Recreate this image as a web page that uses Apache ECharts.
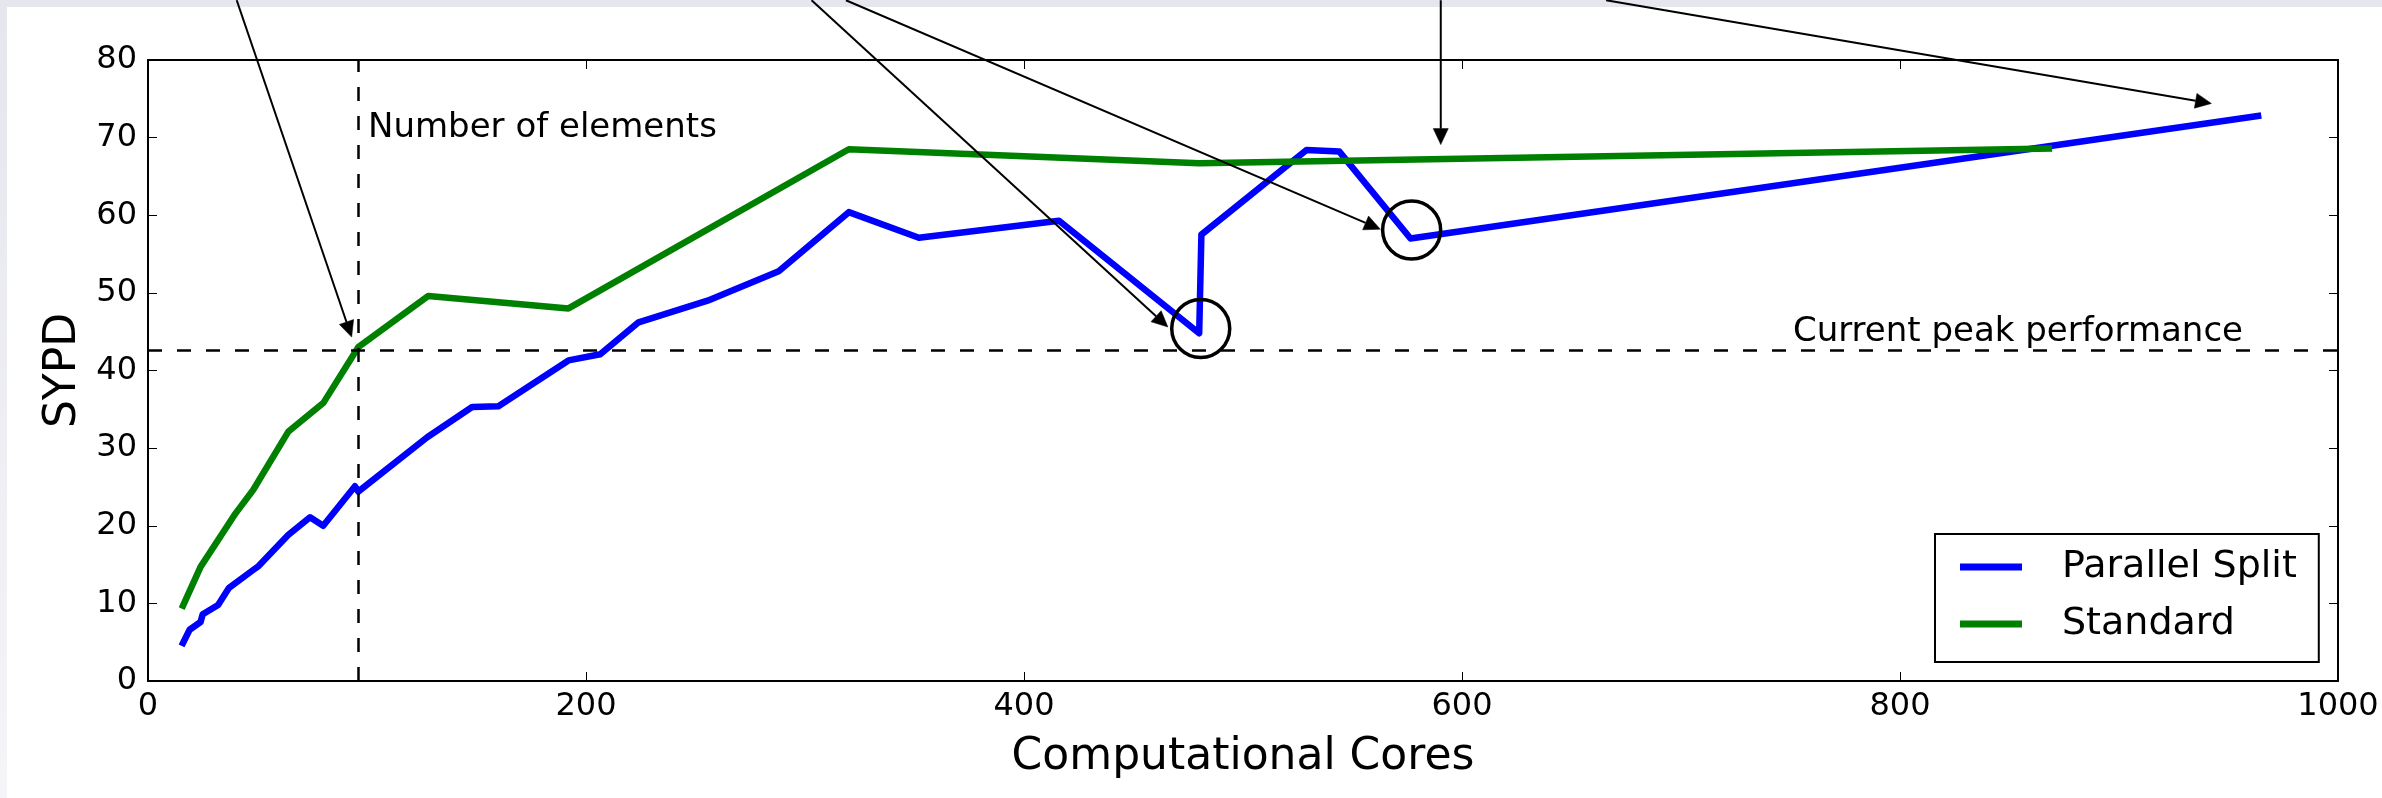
<!DOCTYPE html>
<html>
<head>
<meta charset="utf-8">
<script src="https://cdn.jsdelivr.net/npm/echarts@6/dist/echarts.min.js"></script>
<style>
html,body{margin:0;padding:0;background:#ffffff;}
#c{width:2382px;height:798px;}
</style>
</head>
<body>
<div id="c"></div>
<script>
// ---- data ----
const xTickValues = [0, 200, 400, 600, 800, 1000];
const yTickValues = [0, 10, 20, 30, 40, 50, 60, 70, 80];

const parallelCores = [16, 19, 24, 25, 32, 37, 48, 50.5, 64, 74, 80, 94.5, 96, 127.5, 148, 160, 192, 206.5, 224, 255.5, 288, 320, 352, 416, 480, 481, 529, 544, 576.5, 963.5];
const parallelSYPD  = [4.9, 6.6, 7.6, 8.6, 9.8, 12.0, 14.3, 14.8, 18.8, 21.1, 20.0, 25.1, 24.4, 31.4, 35.3, 35.4, 41.3, 42.1, 46.2, 49.0, 52.8, 60.4, 57.1, 59.3, 44.8, 57.5, 68.4, 68.2, 57.0, 72.8];

const standardCores = [16, 24, 40, 48, 64, 80, 96, 128, 192, 320, 480, 868];
const standardSYPD  = [9.7, 14.7, 21.6, 24.6, 32.1, 35.8, 43.0, 49.6, 48.0, 68.5, 66.7, 68.6];

const elementsCores = 96;
const peakSYPD = 42.6;

const circledCores = [480.7, 577];
const circledSYPD  = [45.4, 58.1];

const arrowFromCores = [40.5, 303, 318.7, 590.3, 665.8];
const arrowFromSYPD  = [87.7, 87.7, 87.7, 87.7, 87.7];
const arrowToCores   = [93, 465.7, 562.7, 590.3, 942.2];
const arrowToSYPD    = [44.3, 45.6, 58.2, 69.1, 74.4];

const seriesNames = ['Parallel Split', 'Standard'];
const annotationTexts = ['Number of elements', 'Current peak performance'];

// ---- chart ----
const FONT = 'DejaVu Sans';
const chart = echarts.init(document.getElementById('c'), null, {renderer: 'canvas'});

const parallelData = parallelCores.map((x, i) => [x, parallelSYPD[i]]);
const standardData = standardCores.map((x, i) => [x, standardSYPD[i]]);
const circleData = circledCores.map((x, i) => [x, circledSYPD[i]]);
const arrowData = arrowFromCores.map((x, i) => [x, arrowFromSYPD[i], arrowToCores[i], arrowToSYPD[i]]);

const xMin = xTickValues[0], xMax = xTickValues[xTickValues.length - 1];
const yMin = yTickValues[0], yMax = yTickValues[yTickValues.length - 1];
const xInt = xTickValues[1] - xTickValues[0];
const yInt = yTickValues[1] - yTickValues[0];

function baseAxis(extra) {
  return Object.assign({
    type: 'value',
    splitLine: {show: false},
    axisLine: {show: true, onZero: false, lineStyle: {color: '#000', width: 2}},
    axisTick: {show: true, inside: true, length: 9, lineStyle: {color: '#000', width: 1}},
    minorTick: {show: false}
  }, extra);
}

const plainNumber = function (v) { return String(v); };

const option = {
  animation: false,
  backgroundColor: '#ffffff',
  grid: {left: 148, top: 60, right: 44, bottom: 117, containLabel: false, outerBoundsMode: 'none'},
  xAxis: [
    baseAxis({
      position: 'bottom', min: xMin, max: xMax, interval: xInt,
      axisLabel: {show: true, margin: 10, color: '#000', fontSize: 32, fontFamily: FONT, formatter: plainNumber},
      name: 'Computational Cores', nameLocation: 'middle', nameGap: 55,
      nameTextStyle: {color: '#000', fontSize: 44, fontFamily: FONT}
    }),
    baseAxis({
      position: 'top', min: xMin, max: xMax, interval: xInt,
      axisLabel: {show: false}
    })
  ],
  yAxis: [
    baseAxis({
      position: 'left', min: yMin, max: yMax, interval: yInt,
      axisLabel: {show: true, margin: 11, color: '#000', fontSize: 32, fontFamily: FONT, formatter: plainNumber},
      name: 'SYPD', nameLocation: 'middle', nameGap: 60,
      nameTextStyle: {color: '#000', fontSize: 44, fontFamily: FONT}
    }),
    baseAxis({
      position: 'right', min: yMin, max: yMax, interval: yInt,
      axisLabel: {show: false}
    })
  ],
  legend: {
    show: true,
    data: seriesNames,
    orient: 'vertical',
    left: 1935, top: 534,
    padding: [14, 22, 19, 25],
    itemGap: 19,
    itemWidth: 62, itemHeight: 7,
    icon: 'rect',
    borderColor: '#000', borderWidth: 2, borderRadius: 0,
    backgroundColor: '#ffffff',
    selectedMode: false,
    textStyle: {color: '#000', fontSize: 38, fontFamily: FONT, padding: [0, 0, 0, 35]}
  },
  graphic: [
    {type: 'rect', z: -100, silent: true, shape: {x: 0, y: 0, width: 2382, height: 7},
     style: {fill: '#e5e6ee'}},
    {type: 'rect', z: -100, silent: true, shape: {x: 0, y: 0, width: 7, height: 798},
     style: {fill: new echarts.graphic.LinearGradient(0, 0, 0, 1, [
       {offset: 0, color: '#e5e6ee'}, {offset: 1, color: '#f5f5f8'}])}},
    {type: 'text', z: 10, silent: true, x: 368, y: 128,
     style: {text: annotationTexts[0], font: '34px "' + FONT + '"', fill: '#000', align: 'left', verticalAlign: 'middle'}},
    {type: 'text', z: 10, silent: true, x: 2243, y: 332,
     style: {text: annotationTexts[1], font: '34px "' + FONT + '"', fill: '#000', align: 'right', verticalAlign: 'middle'}}
  ],
  series: [
    {
      name: seriesNames[0], type: 'line', data: parallelData,
      showSymbol: false, symbol: 'none', silent: true, z: 2,
      color: '#0000ff',
      lineStyle: {color: '#0000ff', width: 6.5, cap: 'square', join: 'round', opacity: 1},
      emphasis: {disabled: true}
    },
    {
      name: seriesNames[1], type: 'line', data: standardData,
      showSymbol: false, symbol: 'none', silent: true, z: 3,
      color: '#008000',
      lineStyle: {color: '#008000', width: 6.5, cap: 'square', join: 'round', opacity: 1},
      emphasis: {disabled: true}
    },
    {
      name: 'circles', type: 'scatter', data: circleData, z: 5, silent: true,
      symbol: 'circle', symbolSize: 58,
      itemStyle: {color: 'rgba(0,0,0,0)', borderColor: '#000000', borderWidth: 3.5, opacity: 1},
      emphasis: {disabled: true},
      markLine: {
        silent: true, symbol: ['none', 'none'], animation: false,
        label: {show: false},
        lineStyle: {color: '#000', width: 2.5, type: [14, 15], opacity: 1},
        emphasis: {disabled: true},
        data: [{xAxis: elementsCores}, {yAxis: peakSYPD}]
      }
    },
    {
      name: 'arrows', type: 'custom', data: arrowData, z: 6, silent: true, clip: false,
      encode: {x: [0, 2], y: [1, 3]},
      renderItem: function (params, api) {
        const s = api.coord([api.value(0), api.value(1)]);
        const t = api.coord([api.value(2), api.value(3)]);
        const dx = t[0] - s[0], dy = t[1] - s[1];
        const L = Math.hypot(dx, dy);
        const ux = dx / L, uy = dy / L;
        const hl = 16, hw = 7.5;
        const bx = t[0] - ux * hl, by = t[1] - uy * hl;
        return {
          type: 'group',
          children: [
            {type: 'line', shape: {x1: s[0], y1: s[1], x2: bx, y2: by},
             style: {stroke: '#000', lineWidth: 2}},
            {type: 'polygon', shape: {points: [[t[0], t[1]], [bx - uy * hw, by + ux * hw], [bx + uy * hw, by - ux * hw]]},
             style: {fill: '#000', stroke: '#000', lineWidth: 0.5}}
          ]
        };
      }
    }
  ]
};

chart.setOption(option);
</script>
</body>
</html>
